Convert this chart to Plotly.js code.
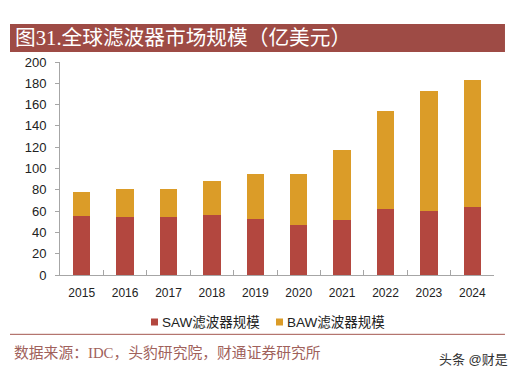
<!DOCTYPE html>
<html>
<head>
<meta charset="utf-8">
<script src="https://cdn.plot.ly/plotly-3.0.1.min.js"></script>
<style>html,body{margin:0;padding:0;background:#fff;}#chart{width:526px;height:377px;}</style>
</head>
<body>
<div id="chart"></div>
<script>
const years = ['2015','2016','2017','2018','2019','2020','2021','2022','2023','2024'];
const sawValues = [55, 54, 54, 56, 53, 47, 52, 62, 60, 64];
const bawValues = [23, 27, 27, 32, 42, 48, 65, 92, 113, 119];
const sawName = 'SAW滤波器规模';
const bawName = 'BAW滤波器规模';
const titleText = '图31.全球滤波器市场规模（亿美元）';
const sourceText = '数据来源：IDC，头豹研究院，财通证券研究所';
const watermark = '头条 @财是';

const sawColor = '#B3473F';
const bawColor = '#DB9C28';
const sansFont = 'Arial, "Liberation Sans", "Noto Sans CJK SC", sans-serif';
const serifFont = '"Liberation Serif", "Noto Sans CJK SC", serif';

const traces = [
  {type:'bar', name:sawName, x:years, y:sawValues, marker:{color:sawColor}, width:0.4},
  {type:'bar', name:bawName, x:years, y:bawValues, marker:{color:bawColor}, width:0.4}
];

const layout = {
  width:526, height:377,
  margin:{l:60, r:32, t:62, b:102},
  barmode:'stack',
  paper_bgcolor:'#fff', plot_bgcolor:'#fff',
  showlegend:false,
  xaxis:{type:'category', showline:true, linecolor:'#A6A6A6', linewidth:1,
         ticks:'inside', tickson:'boundaries', ticklen:5, tickcolor:'#A6A6A6',
         tickfont:{family:sansFont, size:12, color:'#222'}, showgrid:false,
         ticklabelstandoff:7},
  yaxis:{range:[0,200], dtick:20, showline:true, linecolor:'#A6A6A6', linewidth:1,
         ticks:'outside', ticklen:4, tickcolor:'#A6A6A6', showgrid:false, zeroline:false,
         tickfont:{family:sansFont, size:13, color:'#222'}, ticklabelstandoff:6},
  shapes:[
    {type:'rect', xref:'paper', yref:'paper', x0:-0.1152, x1:1.0253, y0:1.047, y1:1.178,
     fillcolor:'#9E4B45', line:{width:0}},
    {type:'line', xref:'paper', yref:'paper', x0:-0.1152, x1:1.0253, y0:-0.2785, y1:-0.2785,
     line:{color:'#A3564F', width:1}},
    {type:'rect', xref:'paper', yref:'paper', x0:0.2097, x1:0.2258, y0:-0.2371, y1:-0.2042,
     fillcolor:sawColor, line:{width:0}},
    {type:'rect', xref:'paper', yref:'paper', x0:0.4977, x1:0.5138, y0:-0.2371, y1:-0.2042,
     fillcolor:bawColor, line:{width:0}}
  ],
  annotations:[
    {xref:'paper', yref:'paper', x:-0.108, y:1.1127, xanchor:'left', yanchor:'middle',
     text:titleText, showarrow:false, font:{family:serifFont, size:20.7, color:'#fff'}},
    {xref:'paper', yref:'paper', x:0.2304, y:-0.2207, xanchor:'left', yanchor:'middle',
     text:sawName, showarrow:false, font:{family:sansFont, size:13.5, color:'#222'}},
    {xref:'paper', yref:'paper', x:0.5184, y:-0.2207, xanchor:'left', yanchor:'middle',
     text:bawName, showarrow:false, font:{family:sansFont, size:13.5, color:'#222'}},
    {xref:'paper', yref:'paper', x:-0.11, y:-0.364, xanchor:'left', yanchor:'middle',
     text:sourceText, showarrow:false, font:{family:serifFont, size:14.8, color:'#A0615B'}},
    {xref:'paper', yref:'paper', x:1.037, y:-0.395, xanchor:'right', yanchor:'middle',
     text:watermark, showarrow:false, font:{family:sansFont, size:13, color:'#333'}}
  ]
};

Plotly.newPlot('chart', traces, layout, {displayModeBar:false, staticPlot:true});
</script>
</body>
</html>
